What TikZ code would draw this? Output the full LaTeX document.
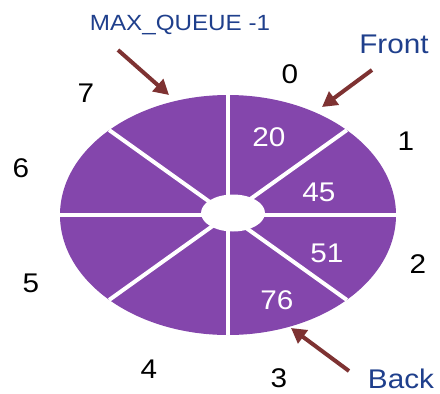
\documentclass[tikz,border=0pt]{standalone}
\usepackage{fontspec}
\setmainfont[FakeStretch=1.1]{Liberation Sans}
\usetikzlibrary{arrows.meta,calc}
\definecolor{ringfill}{HTML}{8446AC}
\definecolor{tagblue}{HTML}{1F3F8C}
\definecolor{pointer}{HTML}{7E3232}
\tikzset{
  idx/.style={inner sep=0pt, anchor=center, font=\fontsize{27}{27}\selectfont, text=black},
  val/.style={inner sep=0pt, anchor=center, font=\fontsize{27}{27}\selectfont, text=white},
  tag/.style={inner sep=0pt, anchor=base, text=tagblue},
  sep/.style={white, line width=4pt},
  ptr/.style={pointer, line width=4pt, -{Triangle[length=15pt, width=16pt]}}
}
\begin{document}
\begin{tikzpicture}[x=1pt, y=-1pt]
  \useasboundingbox (0,0) rectangle (440,394);
  % circular buffer body
  \coordinate (c) at (228,215);
  \fill[ringfill] (c) ellipse [x radius=168pt, y radius=120pt];
  % slot separators
  \draw[sep] (228,95) -- (228,335);
  \draw[sep] (60,215) -- (396,215);
  \draw[sep] ($(c)+(-118.8,-84.9)$) -- ($(c)+(118.8,84.9)$);
  \draw[sep] ($(c)+(118.8,-84.9)$) -- ($(c)+(-118.8,84.9)$);
  % hub
  \fill[white] (233,213) ellipse [x radius=32pt, y radius=18.5pt];
  % slot indices
  \node[idx] (i0) at (290,74) {0};
  \node[idx] (i1) at (406,141) {1};
  \node[idx] (i2) at (418,264) {2};
  \node[idx] (i3) at (279,378) {3};
  \node[idx] (i4) at (149,369) {4};
  \node[idx] (i5) at (31,283) {5};
  \node[idx] (i6) at (21,168) {6};
  \node[idx] (i7) at (86,93) {7};
  % stored values
  \node[val] (v0) at (269,137) {20};
  \node[val] (v1) at (319,192) {45};
  \node[val] (v2) at (327,253) {51};
  \node[val] (v3) at (277,300) {76};
  % pointer labels
  \node[tag, font=\fontsize{22}{22}\selectfont] (maxq) at (180,30) {MAX\_QUEUE -1};
  \node[tag, font=\fontsize{27}{27}\selectfont] (front) at (394,53) {Front};
  \node[tag, font=\fontsize{27}{27}\selectfont] (back) at (401,388) {Back};
  % pointer arrows
  \coordinate (maxqtail) at (118,50);
  \coordinate (maxqtip) at (169,95);
  \coordinate (fronttail) at (372,70);
  \coordinate (fronttip) at (322,107);
  \coordinate (backtail) at (349,371);
  \coordinate (backtip) at (291,328);
  \draw[ptr] (maxqtail) -- (maxqtip);
  \draw[ptr] (fronttail) -- (fronttip);
  \draw[ptr] (backtail) -- (backtip);
\end{tikzpicture}
\end{document}
